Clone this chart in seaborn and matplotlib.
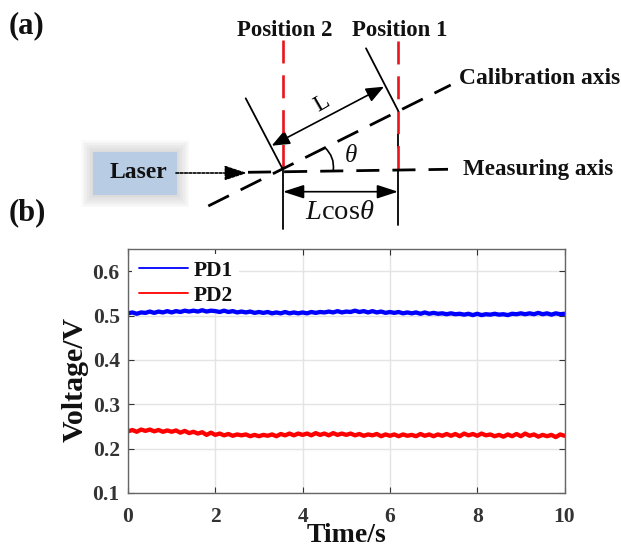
import numpy as np
import pandas as pd
import matplotlib
matplotlib.use('Agg')
import matplotlib.pyplot as plt
import seaborn as sns
from matplotlib.patches import Rectangle, FancyArrowPatch

# values, one row per second
time_s = [0.0, 0.1, 0.2, 0.3, 0.4, 0.5, 0.6, 0.7, 0.8, 0.9,
          1.0, 1.1, 1.2, 1.3, 1.4, 1.5, 1.6, 1.7, 1.8, 1.9,
          2.0, 2.1, 2.2, 2.3, 2.4, 2.5, 2.6, 2.7, 2.8, 2.9,
          3.0, 3.1, 3.2, 3.3, 3.4, 3.5, 3.6, 3.7, 3.8, 3.9,
          4.0, 4.1, 4.2, 4.3, 4.4, 4.5, 4.6, 4.7, 4.8, 4.9,
          5.0, 5.1, 5.2, 5.3, 5.4, 5.5, 5.6, 5.7, 5.8, 5.9,
          6.0, 6.1, 6.2, 6.3, 6.4, 6.5, 6.6, 6.7, 6.8, 6.9,
          7.0, 7.1, 7.2, 7.3, 7.4, 7.5, 7.6, 7.7, 7.8, 7.9,
          8.0, 8.1, 8.2, 8.3, 8.4, 8.5, 8.6, 8.7, 8.8, 8.9,
          9.0, 9.1, 9.2, 9.3, 9.4, 9.5, 9.6, 9.7, 9.8, 9.9,
          10.0]
pd1 = [.505, .507, .504, .507, .506, .509, .506, .509, .507, .510,
       .507, .510, .508, .511, .509, .511, .509, .512, .509, .511,
       .510, .508, .511, .508, .510, .507, .509, .507, .509, .506,
       .508, .506, .508, .505, .507, .505, .508, .505, .507, .505,
       .507, .505, .508, .506, .508, .507, .509, .507, .510, .507,
       .509, .508, .511, .508, .510, .507, .510, .507, .509, .506,
       .508, .506, .508, .505, .507, .505, .507, .504, .507, .504,
       .506, .504, .505, .503, .505, .503, .504, .502, .504, .501,
       .504, .501, .503, .502, .504, .502, .503, .501, .504, .503,
       .505, .503, .505, .503, .506, .503, .505, .502, .505, .503,
       .504]
pd2 = [.239, .242, .238, .243, .240, .243, .239, .242, .238, .241,
       .238, .241, .236, .240, .235, .238, .234, .237, .231, .236,
       .231, .234, .230, .233, .229, .232, .230, .232, .228, .231,
       .228, .231, .229, .232, .228, .233, .230, .234, .230, .234,
       .231, .234, .230, .235, .231, .234, .230, .235, .231, .234,
       .231, .234, .230, .233, .229, .232, .230, .233, .228, .232,
       .229, .232, .228, .232, .229, .231, .228, .233, .229, .232,
       .228, .232, .229, .233, .229, .233, .228, .234, .230, .233,
       .229, .234, .230, .232, .228, .231, .227, .232, .228, .233,
       .228, .234, .229, .232, .227, .231, .228, .231, .226, .232,
       .229]
x_ticks = [0, 2, 4, 6, 8, 10]
y_ticks = [0.1, 0.2, 0.3, 0.4, 0.5, 0.6]

sns.set_theme(style='whitegrid')
plt.rcParams['font.family'] = ['Liberation Serif', 'DejaVu Serif']
plt.rcParams['font.weight'] = 'bold'
plt.rcParams['mathtext.fontset'] = 'custom'
plt.rcParams['mathtext.rm'] = 'Liberation Serif:normal'
plt.rcParams['mathtext.it'] = 'Liberation Serif:italic:normal'

W, H = 621, 549
fig = plt.figure(figsize=(W / 100, H / 100), dpi=100)

# chart (b)
ax = fig.add_axes([128 / W, 1 - 493 / H, 436.5 / W, 244 / H])
df = pd.DataFrame({'t': time_s * 2, 'v': pd1 + pd2, 'name': ['PD1'] * len(pd1) + ['PD2'] * len(pd2)})
sns.lineplot(data=df, x='t', y='v', hue='name', palette=['#0000ff', '#ff0000'], linewidth=3.1, ax=ax, legend=False)
ax.set_xlim(0, 10)
ax.set_ylim(0.1, 0.65)
ax.set_xticks(x_ticks)
ax.set_yticks(y_ticks)
ax.set_xticklabels([str(t) for t in x_ticks])
ax.set_yticklabels(['%.1f' % t for t in y_ticks])
ax.grid(True, color='#e4e4e4', linewidth=1)
ax.tick_params(axis='both', labelsize=15.5, colors='#333333', direction='in', length=4, width=0.8,
               top=True, right=True, bottom=True, left=True)
ax.tick_params(axis='x', pad=10)
ax.tick_params(axis='y', pad=6)
for s in ax.spines.values():
    s.set_color('#666666')
    s.set_linewidth(1.0)
ax.set_xlabel('Time/s', fontsize=20, fontweight='bold', color='#111111', labelpad=-3)
ax.set_ylabel('Voltage/V', fontsize=21.5, fontweight='bold', color='#111111', labelpad=3, y=0.467)

# legend, kept under the data lines so its white box only hides the grid
ax.plot([], [], color='#0000ff', lw=1.3, label='PD1')
ax.plot([], [], color='#ff0000', lw=1.3, label='PD2')
leg = ax.legend(loc='upper left', bbox_to_anchor=(0.0103, 0.978), borderaxespad=0, frameon=True, facecolor='white',
                edgecolor='none', framealpha=1, fontsize=15.5, handlelength=2.28, handletextpad=0.25,
                labelspacing=0.22, borderpad=0.3, labelcolor='#111111')
leg.set_zorder(1.8)

# schematic (a), drawn in pixel coordinates
sk = fig.add_axes([0, 0, 1, 1], zorder=5)
sk.set_xlim(0, W)
sk.set_ylim(H, 0)
sk.axis('off')
sk.patch.set_alpha(0)

# laser box with soft shadow
for grow in [12, 10.5, 9, 7.5, 6, 4.5, 3, 1.5]:
    sk.add_patch(Rectangle((93 - grow, 152 - grow), 84 + 2 * grow, 43 + 2 * grow, color='#808080', alpha=0.035, lw=0))
sk.add_patch(Rectangle((93, 152), 84, 43, color='#b8cce4', lw=0))

# position lines, black below the measuring axis, red above
sk.plot([282.5, 282.5], [168, 229], color='black', lw=1.3)
sk.plot([398.3, 398.3], [170, 225], color='black', lw=1.3)
sk.plot([398.3, 398.3], [134, 147], color='black', lw=1.3)
red_dash = (0, (8.7, 4.5))
sk.plot([282.5, 282.5], [40, 169], color='#e8141c', lw=1.9, linestyle=red_dash)
sk.plot([398.3, 398.3], [41, 170], color='#e8141c', lw=1.9, linestyle=red_dash)

# mirrors
sk.plot([245.7, 282.3], [98.3, 168.3], color='black', lw=1.3)
sk.plot([366, 398.3], [48.3, 111], color='black', lw=1.3)

# dashed axes
axis_dash = (0, (8.3, 4.7))
sk.plot([208.3, 450.7], [206, 85], color='black', lw=2.0, linestyle=axis_dash)
sk.plot([248, 448], [172.3, 169.3], color='black', lw=2.0, linestyle=axis_dash)


def arrow(p0, p1, style, lw=1.2, ls='-'):
    sk.add_patch(FancyArrowPatch(p0, p1, arrowstyle=style, mutation_scale=16, color='black', lw=lw,
                                 linestyle=ls, shrinkA=0, shrinkB=0))


arrow((384, 86.7), (271.7, 145.7), '<|-|>,head_length=0.68,head_width=0.28')
arrow((283, 191.7), (398, 191.7), '<|-|>,head_length=0.8,head_width=0.26')
arrow((176, 173), (247, 173), '-|>,head_length=0.85,head_width=0.28', ls=(0, (1.6, 1.0)))
sk.add_patch(FancyArrowPatch((325, 147.7), (333.3, 170), connectionstyle='arc3,rad=-0.25', arrowstyle='-',
                             color='black', lw=1.2, shrinkA=0, shrinkB=0))

# texts
dark = '#111111'
sk.text(9, 26, '(a)', fontsize=22, color=dark, va='center', ha='left')
sk.text(9, 213, '(b)', fontsize=22, color=dark, va='center', ha='left')
sk.text(285, 30, 'Position 2', fontsize=16.4, color=dark, va='center', ha='center')
sk.text(400, 30, 'Position 1', fontsize=16.4, color=dark, va='center', ha='center')
sk.text(459, 79, 'Calibration axis', fontsize=16.9, color=dark, va='center', ha='left')
sk.text(463, 169, 'Measuring axis', fontsize=16.6, color=dark, va='center', ha='left')
sk.text(138, 173, 'Laser', fontsize=17, color=dark, va='center', ha='center')
sk.text(321.7, 103.3, 'L', fontsize=17, color='black', va='center', ha='center', rotation=30, fontweight='normal')
sk.text(350.7, 155.7, r'$\mathit{\theta}$', fontsize=18, color=dark, va='center', ha='center', fontweight='normal')
sk.text(340, 219, r'$\mathit{L}\mathrm{cos}\mathit{\theta}$', fontsize=20.5, color=dark, va='baseline', ha='center',
        fontweight='normal')

fig.savefig('out.png', dpi=100)
